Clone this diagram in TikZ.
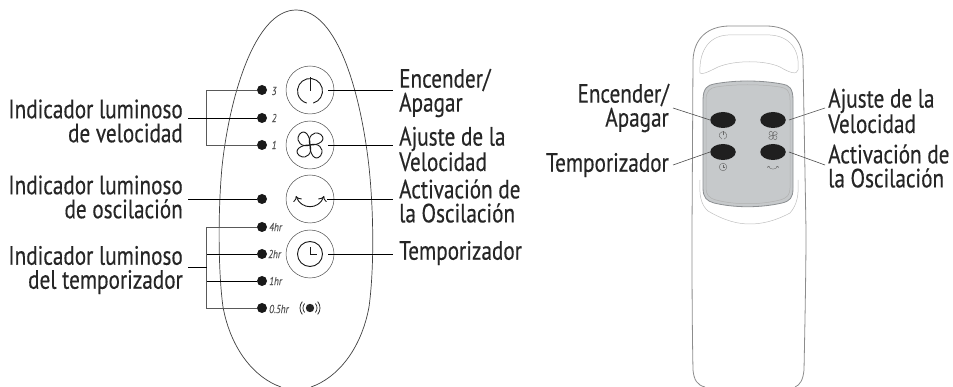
\documentclass[tikz,border=0pt]{standalone}
\usepackage{fontspec}
\setmainfont[FakeStretch=0.8,FakeBold=0.4]{PT Sans}
\usetikzlibrary{arrows.meta,shapes.geometric}
\definecolor{panelgray}{HTML}{C6C9CB}
\definecolor{edgegray}{HTML}{8C8F92}
\begin{document}
\begin{tikzpicture}[x=1pt,y=-1pt,
  callout/.style={font=\fontsize{26.5}{24}\selectfont,inner sep=0pt,text=black!85},
  leftcallout/.style={callout,anchor=east,align=right},
  rightcallout/.style={callout,anchor=west,align=left},
  led/.style={circle,fill=black!90,minimum size=10pt,inner sep=0pt},
  bigbutton/.style={circle,draw=black!70,line width=0.5pt,minimum size=48pt,inner sep=0pt},
  padbutton/.style={ellipse,fill=black!88,minimum width=25.5pt,minimum height=16pt,inner sep=0pt},
  ledtext/.style={font=\itshape\fontsize{11.5}{11.5}\selectfont,text=black!65,inner sep=0pt,anchor=west},
  mainline/.style={black,line width=0.8pt},
  graybracket/.style={black!65,line width=0.7pt},
  thinline/.style={black!70,line width=0.6pt},
  shellline/.style={black!45,line width=0.8pt},
  innerline/.style={black!25,line width=0.5pt},
  pics/poweric/.style={code={
    \draw[pic actions] (75:#1) arc (75:-255:#1);
    \draw[pic actions] (0,0) -- (0,-#1-1);}},
  pics/clockic/.style={code={
    \draw[pic actions] (0,0) circle (#1);
    \draw[pic actions] (0,-0.55*#1) -- (0,0) -- (0.55*#1,0);}},
  pics/fanic/.style={code={
    \draw[pic actions,scale=#1,rotate=45] (0,0) .. controls (-7,-3) and (-9,-13) .. (0,-15) .. controls (9,-16) and (6,-5) .. (0,0);
    \draw[pic actions,scale=#1,rotate=135] (0,0) .. controls (-7,-3) and (-9,-13) .. (0,-15) .. controls (9,-16) and (6,-5) .. (0,0);
    \draw[pic actions,scale=#1,rotate=225] (0,0) .. controls (-7,-3) and (-9,-13) .. (0,-15) .. controls (9,-16) and (6,-5) .. (0,0);
    \draw[pic actions,scale=#1,rotate=315] (0,0) .. controls (-7,-3) and (-9,-13) .. (0,-15) .. controls (9,-16) and (6,-5) .. (0,0);}}
]
\useasboundingbox (0,0) rectangle (953,387);
\draw[black!75,line width=0.7pt] (281,387) .. controls (255,378) and (231,350) .. (223,307)
  .. controls (218,270) and (218,210) .. (222,167) .. controls (229,100) and (254,10) .. (296,10)
  .. controls (338,10) and (361,95) .. (369,167) .. controls (374,215) and (374,270) .. (369,307)
  .. controls (361,350) and (337,378) .. (311,387);
\node (led3) at (262,90) [led] {};
\node (led2) at (262,118) [led] {};
\node (led1) at (262,145) [led] {};
\node (ledosc) at (262,199) [led] {};
\node (led4hr) at (262,227) [led] {};
\node (led2hr) at (262,254) [led] {};
\node (led1hr) at (262,281) [led] {};
\node (led05hr) at (262,308) [led] {};
\node (txt3) at (271.5,91) [ledtext] {3};
\node (txt2) at (271.5,118) [ledtext] {2};
\node (txt1) at (271.5,145) [ledtext] {1};
\node (txt4hr) at (269,227) [ledtext] {4hr};
\node (txt2hr) at (268,254) [ledtext] {2hr};
\node (txt1hr) at (269,281) [ledtext] {1hr};
\node (txt05hr) at (269,309) [ledtext] {0.5hr};
\node (btnpower) at (310,90) [bigbutton] {};
\node (btnfan) at (310,145) [bigbutton] {};
\node (btnswing) at (310,199) [bigbutton] {};
\node (btnclock) at (310,254) [bigbutton] {};
\pic[black!90,line width=0.9pt] at (310,91) {poweric=12.5};
\pic[black!90,line width=0.9pt] at (310,145) {fanic=1};
\pic[black!90,line width=0.9pt] at (310,254) {clockic=12.5};
\draw[black!90,line width=0.9pt,{To[length=5pt,width=9pt]}-{To[length=5pt,width=9pt]}] (296,196) .. controls (301,210) and (319,210) .. (324,196);
\fill[black!85] (310,308) circle (4.2);
\draw[black!80,line width=0.8pt] (310,308) ++(140:7) arc (140:220:7);
\draw[black!80,line width=0.8pt] (310,308) ++(140:10) arc (140:220:10);
\draw[black!80,line width=0.8pt] (310,308) ++(-40:7) arc (-40:40:7);
\draw[black!80,line width=0.8pt] (310,308) ++(-40:10) arc (-40:40:10);
\node (lblvel) at (183,121) [leftcallout] {Indicador luminoso\\de velocidad};
\node (lblosc) at (183,197) [leftcallout] {Indicador luminoso\\de oscilación};
\node (lbltim) at (183,270) [leftcallout] {Indicador luminoso\\del temporizador};
\node (lblon) at (399,93) [rightcallout] {Encender/\\Apagar};
\node (lblspeed) at (399,149) [rightcallout] {Ajuste de la\\Velocidad};
\node (lblswing) at (399,201) [rightcallout] {Activación de\\la Oscilación};
\node (lblclock) at (399,253) [rightcallout] {Temporizador};
\coordinate (velstart) at (188,118);
\coordinate (oscstart) at (188,199);
\coordinate (timstart) at (188,267);
\coordinate (timstem) at (207,267);
\coordinate (tim2hr) at (207,254);
\coordinate (tim1hr) at (207,281);
\coordinate (onend) at (393,90);
\coordinate (speedend) at (393,145);
\coordinate (swingend) at (393,199);
\coordinate (clockend) at (393,254);
\draw[graybracket] (led3.west) -- ++(-50,0) |- (led1.west);
\draw[graybracket] (led4hr.west) -- ++(-50,0) |- (led05hr.west);
\draw[mainline] (velstart) -- (led2.west);
\draw[mainline] (oscstart) -- (ledosc.west);
\draw[mainline] (timstart) -- (timstem);
\draw[mainline] (tim2hr) -- (led2hr.west);
\draw[mainline] (tim1hr) -- (led1hr.west);
\draw[mainline] ([xshift=18pt]btnpower.center) -- (onend);
\draw[mainline] ([xshift=18pt]btnfan.center) -- (speedend);
\draw[mainline] ([xshift=17pt]btnswing.center) -- (swingend);
\draw[mainline] ([xshift=18pt]btnclock.center) -- (clockend);
\draw[shellline] (705,387) .. controls (697,385) and (694,380) .. (693,370) .. controls (692,320) and (692,270) .. (692,230)
  -- (693,60) .. controls (694,38) and (708,26) .. (730,26) -- (766,26) .. controls (788,26) and (802,38) .. (803,60)
  -- (806,230) .. controls (806,270) and (805,320) .. (804,370) .. controls (803,380) and (800,385) .. (795,387);
\draw[innerline] (700,73) .. controls (699,55) and (706,36) .. (728,35) -- (770,35) .. controls (790,36) and (800,50) .. (798,70)
  .. controls (797,75) and (790,73) .. (780,67) .. controls (765,60) and (735,60) .. (718,67) .. controls (708,72) and (702,75) .. (700,73);
\draw[innerline] (700,180) .. controls (699,195) and (701,205) .. (708,211) .. controls (725,221) and (738,224) .. (750,224)
  .. controls (762,224) and (775,221) .. (790,213) .. controls (797,205) and (799,195) .. (798,180);
\draw[edgegray,line width=0.8pt,fill=panelgray] (703,100) .. controls (703,88) and (708,85) .. (714,84) .. controls (735,80) and (760,80) .. (782,84)
  .. controls (789,85) and (793,88) .. (793,100) -- (793,188) .. controls (793,198) and (790,201) .. (782,203)
  .. controls (760,208) and (735,208) .. (714,203) .. controls (707,201) and (703,198) .. (703,188) -- cycle;
\draw[black!30,line width=0.5pt] (706,100) .. controls (706,91) and (710,88) .. (716,87) .. controls (735,84) and (760,84) .. (780,87)
  .. controls (787,88) and (790,91) .. (790,100) -- (790,188) .. controls (790,195) and (787,198) .. (780,200)
  .. controls (760,205) and (735,205) .. (716,200) .. controls (709,198) and (706,195) .. (706,188) -- cycle;
\node (padpower) at (723,120) [padbutton] {};
\node (padspeed) at (773,120) [padbutton] {};
\node (padclock) at (723,152) [padbutton] {};
\node (padswing) at (773,152) [padbutton] {};
\pic[black!60,line width=0.4pt] at (723,135.5) {poweric=3.8};
\pic[black!60,line width=0.4pt] at (773,135.5) {fanic=0.33};
\pic[black!60,line width=0.4pt] at (723,167) {clockic=3.8};
\draw[black!60,line width=0.4pt,{To[length=1.5pt,width=3pt]}-{To[length=1.5pt,width=3pt]}] (768,166) .. controls (770,170) and (776,170) .. (778,166);
\node (lblpadon) at (669,108) [leftcallout] {Encender/\\Apagar};
\node (lblpadclock) at (669,165) [leftcallout] {Temporizador};
\node (lblpadspeed) at (828,111) [rightcallout] {Ajuste de la\\Velocidad};
\node (lblpadswing) at (828,166) [rightcallout] {Activación de\\la Oscilación};
\coordinate (padonend) at (673,108);
\coordinate (padclockend) at (673,165);
\coordinate (padspeedend) at (825,108);
\coordinate (padswingend) at (825,165);
\draw[thinline] (padonend) -- (padpower.west);
\draw[thinline] (padclockend) -- (padclock.west);
\draw[thinline] ([xshift=3pt]padspeed.east) -- (padspeedend);
\draw[thinline] ([xshift=3pt]padswing.east) -- (padswingend);
\end{tikzpicture}
\end{document}
